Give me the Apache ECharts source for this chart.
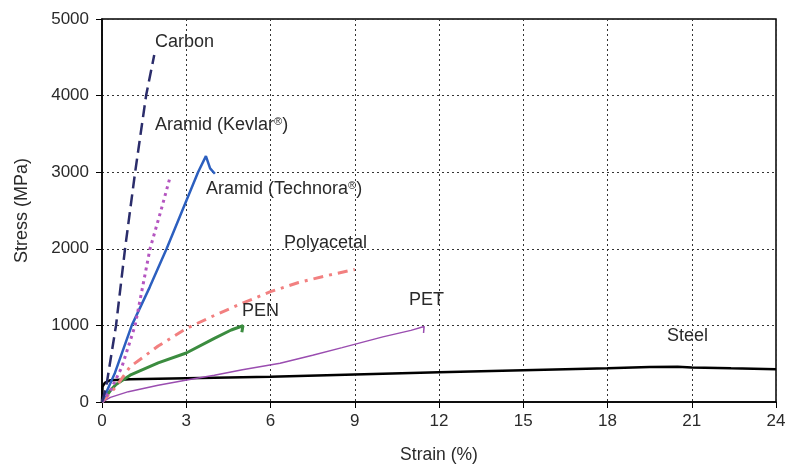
<!DOCTYPE html>
<html><head><meta charset="utf-8">
<script src="https://cdn.jsdelivr.net/npm/echarts@6/dist/echarts.min.js"></script>
<style>html,body{margin:0;padding:0;background:#fff}#c{width:786px;height:468px}</style>
</head><body><div id="c"></div>
<script>
const xTicks = [0,3,6,9,12,15,18,21,24];
const yTicks = [0,1000,2000,3000,4000,5000];
const carbon = [[0,0],[0.15,200],[0.5,1000],[0.82,2000],[1.18,3000],[1.57,4000],[1.86,4530]];
const kevlar = [[0,0],[0.3,150],[0.7,450],[1.18,1000],[1.71,2000],[2.1,2500],[2.42,2930]];
const technora = [[0,0],[0.46,380],[1.06,1000],[1.7,1500],[2.3,2000],[3.42,3000],[3.7,3210],[3.85,3050],[4.02,2980]];
const polyacetal = [[0,0],[0.5,200],[1,460],[2,730],[3,960],[4,1130],[5,1290],[6,1440],[7,1560],[8,1650],[9,1730]];
const pen = [[0,0],[0.3,150],[0.5,230],[1,350],[2,510],[3,640],[4,830],[4.6,940],[5.02,995],[4.98,910]];
const pet = [[0,0],[0.3,60],[0.94,135],[2,220],[3.07,290],[4,350],[5,420],[6.34,505],[7.5,610],[8.55,710],[10,850],[11,935],[11.47,985],[11.45,900]];
const steel = [[0,0],[0.02,200],[0.1,250],[0.3,285],[1,296],[3,310],[6,330],[9,360],[12,390],[15,415],[18,440],[19.5,458],[20.5,460],[21,452],[22.4,440],[24,428]];
const labels = [
  {text:'Carbon', x:155, y:44},
  {text:'Aramid (Kevlar{s|®})', x:155, y:127},
  {text:'Aramid (Technora{s|®})', x:206, y:191},
  {text:'Polyacetal', x:284, y:245},
  {text:'PEN', x:242, y:313},
  {text:'PET', x:409, y:302},
  {text:'Steel', x:667, y:338}
];
const chart = echarts.init(document.getElementById('c'));
const ff = 'Liberation Sans, Arial, sans-serif';
const tc = '#2a2a2a';
function s(name, data, color, width, type){
  return {name, type:'line', data, showSymbol:false, symbol:'none', smooth:false, animation:false,
    lineStyle:{color, width, type, cap:'butt'}};
}
chart.setOption({
  animation:false,
  grid:{left:102, right:10, top:19, bottom:66, show:true, borderColor:'#000', borderWidth:1.5,
    containLabel:false, outerBoundsMode:'none'},
  xAxis:{type:'value', min:0, max:24, interval:3,
    name:'Strain (%)', nameLocation:'middle', nameGap:44,
    nameTextStyle:{fontFamily:ff, fontSize:17.5, color:tc},
    axisLine:{lineStyle:{color:'#000', width:1.5}},
    axisTick:{show:true, length:6, lineStyle:{color:'#000'}},
    axisLabel:{fontFamily:ff, fontSize:17, color:tc, margin:11},
    splitLine:{show:true, lineStyle:{color:'#333', width:1, type:[2,3]}}},
  yAxis:{type:'value', min:0, max:5000, interval:1000,
    name:'Stress (MPa)', nameLocation:'middle', nameGap:71, nameRotate:90,
    nameTextStyle:{fontFamily:ff, fontSize:18, color:tc},
    axisLine:{show:true, lineStyle:{color:'#000', width:1.5}},
    axisTick:{show:true, length:6, lineStyle:{color:'#000'}},
    axisLabel:{fontFamily:ff, fontSize:17, color:tc, margin:13, formatter:v=>String(v)},
    splitLine:{show:true, lineStyle:{color:'#333', width:1, type:[2,3]}}},
  series:[
    s('Steel', steel, '#000000', 2.5, 'solid'),
    s('PET', pet, '#9a4db0', 1.5, 'solid'),
    s('PEN', pen, '#3b8c3f', 3, 'solid'),
    s('Polyacetal', polyacetal, '#f28080', 3, [10,6,3,6]),
    s('Technora', technora, '#2c5fbf', 2.5, 'solid'),
    s('Kevlar', kevlar, '#b455c0', 3, [3,4]),
    s('Carbon', carbon, '#2b2d6b', 2.5, [12,6])
  ],
  graphic: labels.map(l=>({type:'text', left:l.x, top:l.y-11, z:100,
    style:{text:l.text, fontFamily:ff, fontSize:18, fill:tc,
      rich:{s:{fontFamily:ff, fontSize:11, fill:tc, verticalAlign:'top', padding:[0,0,8,0]}}}}))
});
</script></body></html>
